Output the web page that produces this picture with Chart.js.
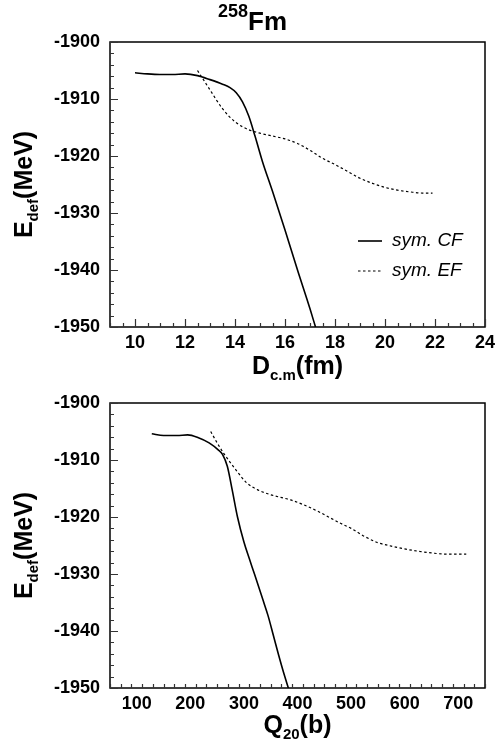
<!DOCTYPE html>
<html>
<head>
<meta charset="utf-8">
<title>258Fm deformation energy</title>
<script src="https://cdn.jsdelivr.net/npm/chart.js@4.4.1/dist/chart.umd.min.js"></script>
<style>
  html, body { margin: 0; padding: 0; background: #fff; }
  body { width: 495px; height: 748px; position: relative; overflow: hidden; }
  canvas { position: absolute; left: 0; }
  #topChart { top: 0; }
  #botChart { top: 385px; }
</style>
</head>
<body>
<canvas id="topChart" width="495" height="385"></canvas>
<canvas id="botChart" width="495" height="363"></canvas>
<script>
// energy axis (shared by both panels)
const yTicks = [-1950, -1940, -1930, -1920, -1910, -1900];

// upper panel: E_def vs D_c.m (fm)
const dcmTicks = [10, 12, 14, 16, 18, 20, 22, 24];
const dcmCF = [10, 10.5, 11, 11.5, 12, 12.5, 13, 13.5, 13.8, 14.05, 14.3, 14.55, 14.8, 15.1, 15.5, 16.0, 16.5, 17.0, 17.22];
const edefCFtop = [-1905.4, -1905.6, -1905.7, -1905.7, -1905.6, -1905.9, -1906.6, -1907.4, -1908.0, -1908.9, -1910.5, -1913.0, -1916.5, -1921.0, -1926.2, -1933.0, -1940.0, -1946.8, -1950.0];
const dcmEF = [12.5, 13.0, 13.5, 14.0, 14.5, 15.0, 15.5, 16.0, 16.5, 17.0, 17.5, 18.0, 18.5, 19.0, 19.5, 20.0, 20.5, 21.0, 21.5, 21.9];
const edefEFtop = [-1905.0, -1908.4, -1911.7, -1914.0, -1915.3, -1916.0, -1916.5, -1917.0, -1917.8, -1919.0, -1920.4, -1921.5, -1922.7, -1923.9, -1924.8, -1925.5, -1926.0, -1926.3, -1926.5, -1926.5];

// lower panel: E_def vs Q20 (b)
const q20Ticks = [100, 200, 300, 400, 500, 600, 700];
const q20CF = [128, 150, 175, 195, 215, 235, 253, 260, 269, 278, 288, 300, 310, 320, 335, 345, 355, 365, 375, 384];
const edefCFbot = [-1905.4, -1905.7, -1905.7, -1905.6, -1906.1, -1907.0, -1908.3, -1909.0, -1911.1, -1915.2, -1920.0, -1924.4, -1927.3, -1930.1, -1934.4, -1937.3, -1940.8, -1944.3, -1947.6, -1950.3];
const q20EF = [238, 250, 262, 275, 288, 305, 325, 350, 387, 410, 438, 478, 500, 525, 550, 575, 600, 625, 650, 675, 715];
const edefEFbot = [-1905.0, -1907.0, -1908.8, -1910.5, -1912.1, -1914.0, -1915.2, -1916.1, -1917.0, -1917.8, -1919.0, -1921.0, -1922.0, -1923.4, -1924.5, -1925.1, -1925.6, -1926.0, -1926.3, -1926.5, -1926.5];

const seriesNames = ['sym. CF', 'sym. EF'];

const FONT = "'Liberation Sans', Arial, Helvetica, sans-serif";

function pts(xs, ys) {
    return xs.map((x, i) => ({ x: x, y: ys[i] }));
}

// draw a run of text pieces (normal / subscript / superscript) starting at x
function drawPieces(ctx, pieces, x, y) {
    let cx = x;
    pieces.forEach(p => {
        ctx.font = (p.style || 'bold') + ' ' + p.size + 'px ' + FONT;
        ctx.fillText(p.t, cx, y + (p.dy || 0));
        cx += ctx.measureText(p.t).width;
    });
}

function piecesWidth(ctx, pieces) {
    let w = 0;
    pieces.forEach(p => {
        ctx.font = (p.style || 'bold') + ' ' + p.size + 'px ' + FONT;
        w += ctx.measureText(p.t).width;
    });
    return w;
}

// frame, inward ticks, axis titles, title and legend
const decorPlugin = {
    id: 'decor',
    afterDraw(chart, args, opts) {
        const ctx = chart.ctx;
        const area = chart.chartArea;
        const xs = chart.scales.x;
        const ys = chart.scales.y;
        ctx.save();

        // box
        ctx.strokeStyle = '#000';
        ctx.lineWidth = 1.5;
        ctx.strokeRect(area.left, area.top, area.right - area.left, area.bottom - area.top);

        // ticks on left and bottom, pointing inward
        ctx.strokeStyle = '#333';
        ctx.lineWidth = 1.2;
        ctx.beginPath();
        for (let v = ys.min; v <= ys.max + 1e-6; v += opts.yMinor) {
            const py = Math.round(ys.getPixelForValue(v)) + 0.5;
            const major = Math.abs(v / 10 - Math.round(v / 10)) < 1e-6;
            ctx.moveTo(area.left, py);
            ctx.lineTo(area.left + (major ? 8 : 4), py);
        }
        for (let v = xs.min; v <= xs.max + 1e-6; v += opts.xMinor) {
            const px = Math.round(xs.getPixelForValue(v)) + 0.5;
            const major = Math.abs(v / opts.xMajor - Math.round(v / opts.xMajor)) < 1e-6;
            ctx.moveTo(px, area.bottom);
            ctx.lineTo(px, area.bottom - (major ? 8 : 4));
        }
        ctx.stroke();

        ctx.fillStyle = '#000';
        ctx.textBaseline = 'alphabetic';
        ctx.textAlign = 'left';

        // x title
        const xw = piecesWidth(ctx, opts.xTitle);
        drawPieces(ctx, opts.xTitle, (area.left + area.right) / 2 - xw / 2, area.bottom + opts.xTitleOffset);

        // y title, rotated
        const yTitle = [
            { t: 'E', size: 25 },
            { t: 'def', size: 15, dy: 6 },
            { t: '(MeV)', size: 25 }
        ];
        const yw = piecesWidth(ctx, yTitle);
        ctx.save();
        ctx.translate(32, (area.top + area.bottom) / 2);
        ctx.rotate(-Math.PI / 2);
        drawPieces(ctx, yTitle, -yw / 2, 0);
        ctx.restore();

        // title
        if (opts.title) {
            drawPieces(ctx, [
                { t: '258', size: 18, dy: -13 },
                { t: 'Fm', size: 26 }
            ], 218, 30);
        }

        // legend
        if (opts.legend) {
            const lx = 358, lw = 24;
            const rows = [241, 271];
            chart.data.datasets.forEach((ds, i) => {
                ctx.strokeStyle = ds.borderColor;
                ctx.lineWidth = ds.borderWidth;
                ctx.setLineDash(ds.borderDash || []);
                ctx.beginPath();
                ctx.moveTo(lx, rows[i]);
                ctx.lineTo(lx + lw, rows[i]);
                ctx.stroke();
                ctx.setLineDash([]);
                ctx.font = 'italic 19px ' + FONT;
                ctx.fillText(ds.label, 392, rows[i] + 5);
            });
        }
        ctx.restore();
    }
};

function makeChart(canvasId, cfg) {
    const datasets = [
        {
            label: seriesNames[0],
            data: pts(cfg.cfX, cfg.cfY),
            borderColor: '#000',
            borderWidth: 1.6,
            pointRadius: 0,
            cubicInterpolationMode: 'monotone'
        },
        {
            label: seriesNames[1],
            data: pts(cfg.efX, cfg.efY),
            borderColor: '#000',
            borderWidth: 1.2,
            borderDash: [2.5, 2.5],
            pointRadius: 0,
            cubicInterpolationMode: 'monotone'
        }
    ];

    return new Chart(document.getElementById(canvasId).getContext('2d'), {
        type: 'line',
        data: { datasets: datasets },
        options: {
            responsive: false,
            animation: false,
            devicePixelRatio: 1,
            layout: { padding: { left: 0, right: 10, top: cfg.top, bottom: 0 } },
            plugins: {
                legend: { display: false },
                tooltip: { enabled: false },
                decor: cfg.decor
            },
            scales: {
                x: {
                    type: 'linear',
                    min: cfg.xMin,
                    max: cfg.xMax,
                    afterBuildTicks: (scale) => { scale.ticks = cfg.xTicks.map(v => ({ value: v })); },
                    afterFit: (scale) => {
                        scale.height = cfg.xHeight;
                        scale.paddingLeft = 0;
                        scale.paddingRight = 0;
                    },
                    grid: { display: false, drawTicks: false },
                    border: { display: false },
                    ticks: {
                        padding: 5,
                        color: '#000',
                        maxRotation: 0,
                        autoSkip: false,
                        callback: (v) => String(v),
                        font: { family: FONT, size: 18, weight: 'bold' }
                    }
                },
                y: {
                    type: 'linear',
                    min: -1950,
                    max: -1900,
                    afterBuildTicks: (scale) => { scale.ticks = yTicks.map(v => ({ value: v })); },
                    afterFit: (scale) => {
                        scale.width = 110;
                        scale.paddingTop = 0;
                        scale.paddingBottom = 0;
                    },
                    grid: { display: false, drawTicks: false },
                    border: { display: false },
                    ticks: {
                        padding: 10,
                        color: '#000',
                        autoSkip: false,
                        callback: (v) => String(v),
                        font: { family: FONT, size: 18, weight: 'bold' }
                    }
                }
            }
        },
        plugins: [decorPlugin]
    });
}

makeChart('topChart', {
    cfX: dcmCF, cfY: edefCFtop, efX: dcmEF, efY: edefEFtop,
    xMin: 9, xMax: 24, xTicks: dcmTicks,
    top: 42, xHeight: 58,
    decor: {
        yMinor: 2, xMinor: 0.5, xMajor: 2,
        xTitleOffset: 47,
        xTitle: [
            { t: 'D', size: 25 },
            { t: 'c.m', size: 15, dy: 6 },
            { t: '(fm)', size: 25 }
        ],
        title: true,
        legend: true
    }
});

makeChart('botChart', {
    cfX: q20CF, cfY: edefCFbot, efX: q20EF, efY: edefEFbot,
    xMin: 50, xMax: 750, xTicks: q20Ticks,
    top: 18, xHeight: 60,
    decor: {
        yMinor: 2, xMinor: 20, xMajor: 100,
        xTitleOffset: 45,
        xTitle: [
            { t: 'Q', size: 25 },
            { t: '20', size: 15, dy: 6 },
            { t: '(b)', size: 25 }
        ],
        title: false,
        legend: false
    }
});
</script>
</body>
</html>
